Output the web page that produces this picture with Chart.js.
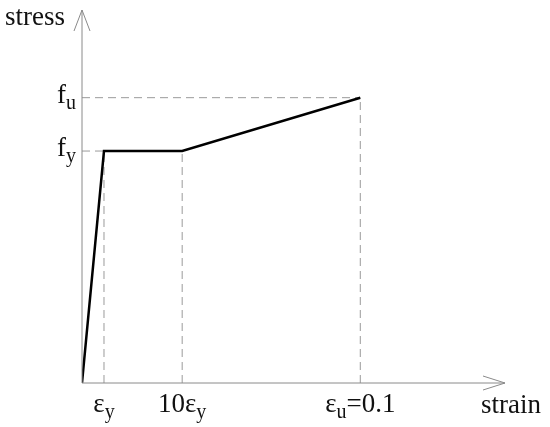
<!DOCTYPE html>
<html>
<head>
<meta charset="utf-8">
<script src="https://cdn.jsdelivr.net/npm/chart.js@4"></script>
<style>
  body { margin: 0; background: #fff; }
  #wrap { width: 550px; height: 427px; }
</style>
</head>
<body>
<div id="wrap"><canvas id="chart" width="550" height="427"></canvas></div>
<script>
// schematic values (not to scale)
const strainPts = [0, 0.0079, 0.036, 0.1];
const stressPts = [0, 1, 1, 1.23];
const strainMax = 0.152;
const stressMax = 1.608;

// tick labels: [base, subscript, rest]
const strainLabels = [['ε', 'y', ''], ['10ε', 'y', ''], ['ε', 'u', '=0.1']];
const strainTickVals = [0.0079, 0.036, 0.1];
const stressLabels = [['f', 'u'], ['f', 'y']];
const stressTickVals = [1.23, 1];

const gray = '#9a9a9a';
const font = '"Liberation Serif", serif';

function guide(pts) {
  return {
    data: pts,
    borderColor: gray,
    borderWidth: 1,
    borderDash: [8, 5],
    pointRadius: 0,
    showLine: true,
    order: 2
  };
}

// drawn as text with a lowered subscript
function subText(ctx, x, y, parts, align) {
  const big = '27px ' + font, small = '20px ' + font;
  ctx.font = big;
  const w1 = ctx.measureText(parts[0]).width;
  ctx.font = small;
  const w2 = ctx.measureText(parts[1]).width;
  ctx.font = big;
  const w3 = parts[2] ? ctx.measureText(parts[2]).width : 0;
  const total = w1 + w2 + w3;
  let x0 = align === 'right' ? x - total : x - total / 2;
  ctx.textAlign = 'left';
  ctx.textBaseline = 'alphabetic';
  ctx.font = big;
  ctx.fillText(parts[0], x0, y);
  ctx.font = small;
  ctx.fillText(parts[1], x0 + w1, y + 6);
  if (parts[2]) {
    ctx.font = big;
    ctx.fillText(parts[2], x0 + w1 + w2, y);
  }
}

const axesPlugin = {
  id: 'axesPlugin',
  afterDatasetsDraw(chart) {
    const ctx = chart.ctx;
    const xs = chart.scales.x, ys = chart.scales.y;
    const ox = xs.getPixelForValue(0), oy = ys.getPixelForValue(0);
    const xe = xs.right, yt = ys.top;
    ctx.save();
    ctx.strokeStyle = '#8a8a8a';
    ctx.lineWidth = 1;
    ctx.beginPath();
    ctx.moveTo(ox, oy); ctx.lineTo(xe, oy);
    ctx.moveTo(ox, oy); ctx.lineTo(ox, yt);
    // arrow heads
    ctx.moveTo(xe - 22, oy - 7); ctx.lineTo(xe, oy); ctx.lineTo(xe - 22, oy + 7);
    ctx.moveTo(ox - 8, yt + 21); ctx.lineTo(ox, yt); ctx.lineTo(ox + 8, yt + 21);
    ctx.stroke();

    ctx.fillStyle = '#111';
    strainLabels.forEach((p, i) => {
      subText(ctx, xs.getPixelForValue(strainTickVals[i]), oy + 29, p, 'center');
    });
    stressLabels.forEach((p, i) => {
      subText(ctx, ox - 6, ys.getPixelForValue(stressTickVals[i]) + 5, p, 'right');
    });
    ctx.font = '27px ' + font;
    ctx.textAlign = 'left';
    ctx.fillText('stress', 5, 25);
    ctx.fillText('strain', 481, 413);
    ctx.restore();
  }
};

const curve = strainPts.map((s, i) => ({ x: s, y: stressPts[i] }));
const u = strainPts.length - 1;

new Chart(document.getElementById('chart'), {
  type: 'scatter',
  data: {
    datasets: [
      {
        data: curve,
        borderColor: '#000',
        borderWidth: 2.5,
        pointRadius: 0,
        showLine: true,
        order: 1
      },
      guide([{ x: 0, y: stressPts[u] }, { x: strainPts[u], y: stressPts[u] }]),
      guide([{ x: 0, y: stressPts[1] }, { x: strainPts[1], y: stressPts[1] }]),
      guide([{ x: strainPts[1], y: 0 }, { x: strainPts[1], y: stressPts[1] }]),
      guide([{ x: strainPts[2], y: 0 }, { x: strainPts[2], y: stressPts[2] }]),
      guide([{ x: strainPts[u], y: 0 }, { x: strainPts[u], y: stressPts[u] }])
    ]
  },
  options: {
    responsive: false,
    animation: false,
    layout: { padding: { left: 82, right: 45, top: 10, bottom: 44 } },
    plugins: { legend: { display: false }, tooltip: { enabled: false } },
    scales: {
      x: { type: 'linear', min: 0, max: strainMax, display: false },
      y: { type: 'linear', min: 0, max: stressMax, display: false }
    }
  },
  plugins: [axesPlugin]
});
</script>
</body>
</html>
